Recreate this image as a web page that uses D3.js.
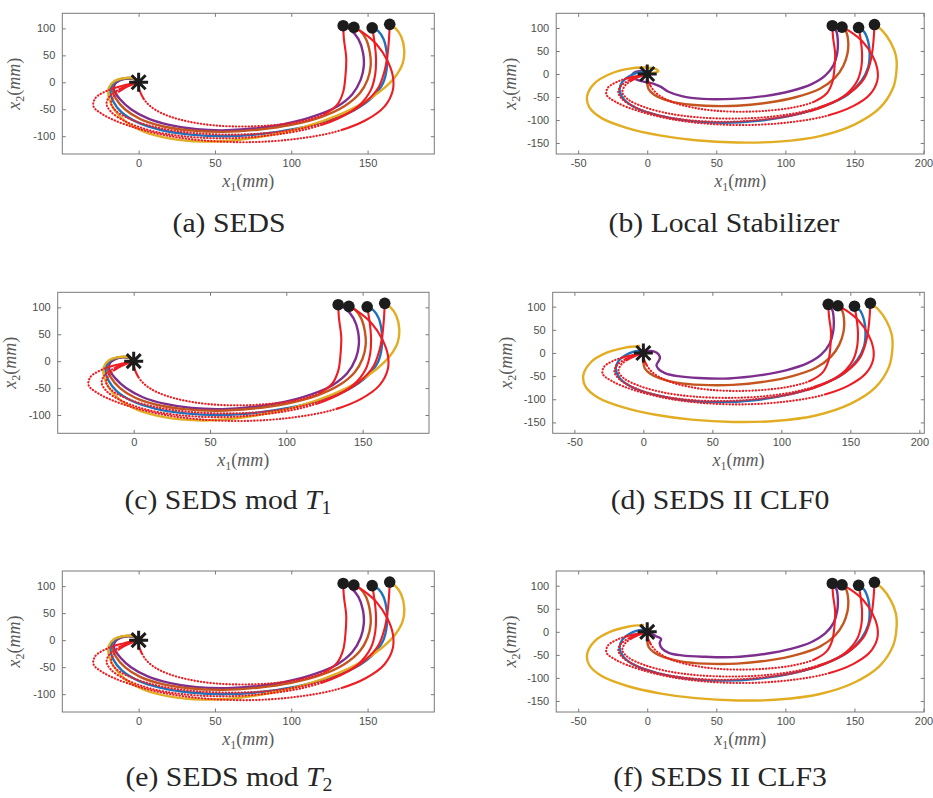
<!DOCTYPE html>
<html><head><meta charset="utf-8">
<script src="https://cdn.jsdelivr.net/npm/d3@7"></script>
<style>body{margin:0;background:#fff}svg{display:block}</style>
</head><body>
<svg id="fig" width="933" height="798"></svg>
<script>
// ---- data (mm) ----
const startPoints = [[134,105],[141,102],[153,101],[164.5,107.5]];
const targetPoint = [0,0];

// demonstrations (shared by every method)
const demo1 = [[134,105],[134.5,80],[136,45],[135.5,12],[134,-18],[130,-42],[121,-60],[107,-72],[90,-79],[70,-82],[50,-80],[33,-73],[20,-63],[11,-51],[5,-37],[1.5,-21],[0,-8],[0,0]];
const demo2 = [[141,102],[147,92],[156,70],[163,40],[166.5,12],[166.5,-15],[161,-45],[149,-70],[130,-91],[103,-105],[73,-111],[43,-108],[17,-98],[-6,-81],[-22,-62],[-29.5,-45],[-28.5,-30],[-21,-16],[-10,-6],[0,0]];
const demo3 = [[153,101],[154.5,75],[155.5,45],[155,15],[152,-15],[144,-44],[130,-68],[110,-87],[84,-99],[56,-104],[29,-100],[7,-89],[-9,-72],[-18,-55],[-21,-40],[-19,-26],[-12,-12],[-5,-4],[0,0]];
const demo4 = [[164.5,107.5],[164,80],[163,50],[161,20],[157,-10],[148,-38],[134,-62],[114,-81],[89,-93],[62,-97],[36,-94],[14,-85],[-3,-71],[-14,-55],[-18,-40],[-16,-25],[-10,-12],[-4,-4],[0,0]];

// SEDS-family reproductions (a, c, e)
const sedsPurple = [[134,105],[139,97],[144,80],[147,55],[147.5,30],[145.5,5],[140,-22],[130,-45],[116,-62],[98,-76],[78,-85],[58,-89],[38,-87],[20,-79],[6,-67],[-5,-50],[-12,-32],[-16,-15],[-15.5,-3],[-12,4],[-7,7],[-3,6],[0,0]];
const sedsBrown = [[141,102],[145,96],[149,80],[151.5,55],[152,30],[150,5],[145,-20],[135,-44],[120,-64],[100,-79],[78,-88],[55,-92],[33,-89],[15,-81],[1,-68],[-9,-50],[-15,-30],[-17.5,-12],[-16,0],[-11,6],[-6,7.5],[-2,5],[0,0]];
const sedsBlue = [[153,101],[157,95],[160.5,80],[162.5,55],[162.5,25],[160,-2],[153,-28],[141,-52],[124,-71],[103,-86],[80,-96],[57,-100],[34,-97],[14,-88],[-1,-74],[-11,-56],[-16.5,-36],[-18.5,-17],[-17,-3],[-13,5],[-7,8],[-2,6],[0,0]];
const sedsYellow = [[164.5,107.5],[168,101],[172,85],[174,60],[173,35],[168,10],[159,-15],[146,-40],[130,-62],[110,-82],[88,-97],[65,-107],[42,-110],[20,-104],[3,-91],[-9,-72],[-16,-50],[-19.5,-28],[-19.5,-10],[-16,2],[-10,7.5],[-4,8],[0,0]];

// Local stabilizer reproductions (b)
const stabPurple = [[134,105],[137,92],[138,70],[137.5,45],[135,20],[129,-3],[119,-22],[104,-37],[85,-48],[62,-54],[40,-54],[25,-48],[15,-38],[10,-28],[7,-24],[3,-20],[-2,-17],[-8,-12],[-11,-5],[-10,2],[-6,6],[-2,5],[0,0]];
const stabBrown = [[141,102],[144,92],[145.5,70],[145,45],[142,18],[136,-8],[125,-32],[108,-50],[88,-62],[65,-69],[42,-69],[24,-64],[12,-55],[5,-45],[1,-33],[0,-20],[0,-8],[0,0]];
const stabBlue = [[153,101],[157,92],[160,70],[161,45],[160,15],[155,-15],[145,-45],[128,-70],[105,-90],[80,-102],[55,-106],[30,-102],[8,-90],[-8,-74],[-17,-55],[-20,-35],[-18,-17],[-13,-5],[-8,2],[-3,4],[0,0]];
const stabYellow = [[164.5,107.5],[170,95],[176,70],[180,40],[180.5,10],[178,-30],[168,-75],[150,-110],[125,-135],[95,-147],[65,-149],[35,-144],[10,-134],[-15,-117],[-33,-96],[-42,-72],[-43.5,-48],[-38,-20],[-27,0],[-14,11],[-2,14],[6,11],[8,6],[4,2],[0,0]];

// SEDS II with CLF (d, f) – differ only near the target
const clf0Purple = [[134,105],[137,92],[138,70],[137.5,45],[135,20],[129,-3],[119,-22],[104,-37],[85,-48],[62,-55],[40,-54],[25,-50],[16,-44],[11,-35],[9.5,-26],[11,-18],[12,-11],[11,-3],[8,3],[4,4],[0,0]];
const clf3Purple = [[134,105],[137,92],[138,70],[137.5,45],[135,20],[129,-3],[119,-22],[104,-37],[85,-48],[62,-55],[40,-54],[25,-51],[16,-46],[11,-37],[9,-25],[10,-15],[6,-9],[3,-4],[0,0]];
const clfYellow = [[164.5,107.5],[170,95],[176,70],[180,40],[180.5,10],[178,-30],[168,-75],[150,-110],[125,-135],[95,-147],[65,-149],[35,-144],[10,-134],[-15,-117],[-33,-96],[-42,-72],[-43.5,-48],[-38,-20],[-27,0],[-14,11],[-3,15]];

const leftXTicks = [0,50,100,150];
const leftYTicks = [-100,-50,0,50,100];
const rightXTicks = [-50,0,50,100,150,200];
const rightYTicks = [-150,-100,-50,0,50,100];

const captionText = ['(a) SEDS','(b) Local Stabilizer','(c) SEDS mod ','(d) SEDS II CLF0','(e) SEDS mod ','(f) SEDS II CLF3'];
const captionSymbol = [null,null,['T','1'],null,['T','2'],null];

// ---- styling ----
const colors = {purple:'#7e2f8e', brown:'#c4551f', blue:'#1f72bb', yellow:'#e2ad22', demo:'#ee1d23', marker:'#1c1c1c'};
const demos = [demo1,demo2,demo3,demo4];
const curveSets = {
  a: [sedsPurple,sedsBrown,sedsBlue,sedsYellow],
  b: [stabPurple,stabBrown,stabBlue,stabYellow],
  d: [clf0Purple,stabBrown,stabBlue,clfYellow],
  f: [clf3Purple,stabBrown,stabBlue,clfYellow]
};
const seriesColors = [colors.purple,colors.brown,colors.blue,colors.yellow];

const panels = [
  {left:62.3, right:434.3, top:13.3, bottom:154, xDomain:[-50,193.7], yDomain:[-133,128], xt:leftXTicks, yt:leftYTicks, curves:curveSets.a, cap:[229,232], yLab:20},
  {left:556.2,right:924.2, top:13.3, bottom:154, xDomain:[-65.9,200.5], yDomain:[-174,132], xt:rightXTicks, yt:rightYTicks, curves:curveSets.b, cap:[724,232], yLab:516},
  {left:57.7, right:429,   top:292.3,bottom:433.3,xDomain:[-49.8,193.5], yDomain:[-134,128], xt:leftXTicks, yt:leftYTicks, curves:curveSets.a, cap:[228,509], yLab:16},
  {left:552.7,right:924.3, top:292.3,bottom:433.3,xDomain:[-65.7,203.6], yDomain:[-173.5,131], xt:rightXTicks, yt:rightYTicks, curves:curveSets.d, cap:[720,509], yLab:512},
  {left:62.3, right:434.3, top:571,  bottom:712,  xDomain:[-50,193.7], yDomain:[-133,128], xt:leftXTicks, yt:leftYTicks, curves:curveSets.a, cap:[229,786], yLab:20},
  {left:556.2,right:924.2, top:571,  bottom:712,  xDomain:[-65.9,200.5], yDomain:[-174,132], xt:rightXTicks, yt:rightYTicks, curves:curveSets.f, cap:[720,786], yLab:516}
];

const svg = d3.select('#fig');
const tickFont = '"Liberation Sans", Arial, sans-serif';
const serif = '"Liberation Serif", "DejaVu Serif", serif';

// dotted look of sampled demonstrations: dense near the ends, sparse in between
function demoDash(L, head, tail, dash, gap) {
  const arr = [head, gap];
  let pos = head + gap;
  while (pos < L - tail) { arr.push(dash, gap); pos += dash + gap; }
  arr.push(L, 0);
  return arr.join(' ');
}

function mathLabel(t, sub) {
  t.append('tspan').attr('font-style','italic').text('x');
  t.append('tspan').attr('font-size','12px').attr('dy',4).text(sub);
  t.append('tspan').attr('dy',-4).text('(');
  t.append('tspan').attr('font-style','italic').text('mm');
  t.append('tspan').text(')');
}

panels.forEach((p, i) => {
  const g = svg.append('g');
  const x = d3.scaleLinear().domain(p.xDomain).range([p.left, p.right]);
  const y = d3.scaleLinear().domain(p.yDomain).range([p.bottom, p.top]);
  const line = d3.line().x(d => x(d[0])).y(d => y(d[1])).curve(d3.curveCatmullRom.alpha(0.5));
  const fmt = d => String(d);

  const axes = [
    [d3.axisBottom(x).tickValues(p.xt).tickFormat(fmt), `translate(0,${p.bottom})`],
    [d3.axisTop(x).tickValues(p.xt).tickFormat(''), `translate(0,${p.top})`],
    [d3.axisLeft(y).tickValues(p.yt).tickFormat(fmt), `translate(${p.left},0)`],
    [d3.axisRight(y).tickValues(p.yt).tickFormat(''), `translate(${p.right},0)`]
  ];
  axes.forEach(([ax, tr], k) => {
    const a = g.append('g').attr('transform', tr)
      .call(ax.tickSize(-3.5).tickPadding(k === 2 ? 7 : 5));
    a.select('.domain').remove();
    a.selectAll('line').attr('stroke','#7a7a7a');
    a.selectAll('text').attr('fill','#4d4d4d').attr('font-family',tickFont).attr('font-size','11px');
  });
  g.append('rect').attr('x',p.left).attr('y',p.top)
    .attr('width',p.right-p.left).attr('height',p.bottom-p.top)
    .attr('fill','none').attr('stroke','#7a7a7a').attr('stroke-width',1);

  // reproductions
  p.curves.forEach((c, k) => {
    g.append('path').attr('d', line(c)).attr('fill','none')
      .attr('stroke', seriesColors[k]).attr('stroke-width',2.4)
      .attr('stroke-linecap','round').attr('stroke-linejoin','round');
  });
  // demonstrations
  demos.forEach(dm => {
    const path = g.append('path').attr('d', line(dm)).attr('fill','none')
      .attr('stroke', colors.demo).attr('stroke-width',2.1).attr('stroke-linecap','round');
    const L = path.node().getTotalLength();
    path.attr('stroke-dasharray', demoDash(L, 0.32*L, 0.06*L, 0.4, 2.8));
  });
  // start points
  g.selectAll('circle.start').data(startPoints).join('circle')
    .attr('cx', d => x(d[0])).attr('cy', d => y(d[1])).attr('r',5.8)
    .attr('fill', colors.marker);
  // target asterisk
  const tx = x(targetPoint[0]), ty = y(targetPoint[1]);
  const r = 9.5, rd = 7;
  g.append('path')
    .attr('d', `M${tx-r},${ty}H${tx+r}M${tx},${ty-r}V${ty+r}M${tx-rd},${ty-rd}L${tx+rd},${ty+rd}M${tx-rd},${ty+rd}L${tx+rd},${ty-rd}`)
    .attr('stroke', colors.marker).attr('stroke-width',3).attr('fill','none');

  // axis labels
  const xl = g.append('text').attr('x',(p.left+p.right)/2).attr('y',p.bottom+33)
    .attr('text-anchor','middle').attr('font-family',serif).attr('font-size','18px').attr('fill','#5a5a5a');
  mathLabel(xl, '1');
  const yl = g.append('text').attr('transform',`translate(${p.yLab},${(p.top+p.bottom)/2}) rotate(-90)`)
    .attr('text-anchor','middle').attr('font-family',serif).attr('font-size','18px').attr('fill','#5a5a5a');
  mathLabel(yl, '2');

  // caption
  const cap = g.append('text').attr('transform',`translate(${p.cap[0]},${p.cap[1]}) scale(1.1,1)`)
    .attr('text-anchor','middle').attr('font-family',serif).attr('font-size','27px').attr('fill','#262626');
  cap.append('tspan').text(captionText[i]);
  if (captionSymbol[i]) {
    cap.append('tspan').attr('font-style','italic').text(captionSymbol[i][0]);
    cap.append('tspan').attr('font-size','18px').attr('dy',5).text(captionSymbol[i][1]);
  }
});
</script>
</body></html>
